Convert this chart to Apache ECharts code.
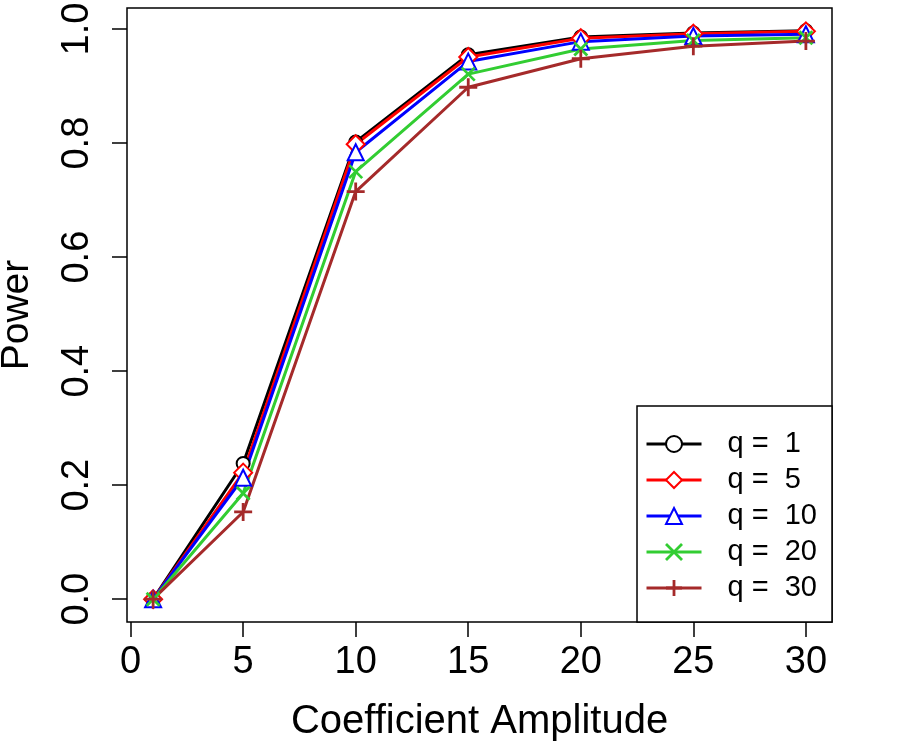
<!DOCTYPE html>
<html>
<head>
<meta charset="utf-8">
<script src="https://cdn.jsdelivr.net/npm/echarts@6/dist/echarts.min.js"></script>
<style>
    html, body { margin: 0; padding: 0; background: #fff; }
    #powerChart { width: 900px; height: 750px; }
</style>
</head>
<body>
<div id="powerChart"></div>
<script>
// coefficient amplitude (x) and power for each q
const amplitude = [1, 5, 10, 15, 20, 25, 30];
const power_q1  = [0, 0.238, 0.802, 0.955, 0.986, 0.993, 0.997];
const power_q5  = [0, 0.222, 0.798, 0.951, 0.984, 0.992, 0.996];
const power_q10 = [0, 0.213, 0.784, 0.943, 0.978, 0.988, 0.991];
const power_q20 = [0, 0.186, 0.750, 0.921, 0.965, 0.980, 0.985];
const power_q30 = [0, 0.153, 0.715, 0.898, 0.948, 0.970, 0.979];
const xTicks = [0, 5, 10, 15, 20, 25, 30];
const yTicks = [0, 0.2, 0.4, 0.6, 0.8, 1.0];
const seriesNames = ['q =  1', 'q =  5', 'q =  10', 'q =  20', 'q =  30'];

const FONT = 'Liberation Sans';

function makeSeries(name, values, color, symbol, size) {
    return {
        name: name,
        type: 'line',
        data: amplitude.map((x, i) => [x, values[i]]),
        symbol: symbol,
        symbolSize: size,
        lineStyle: { color: color, width: 3 },
        itemStyle: { color: color, borderColor: color, borderWidth: 2.8 },
        emphasis: { disabled: true },
        animation: false
    };
}

let myChart = echarts.init(document.getElementById('powerChart'));
let option = {
    backgroundColor: '#fff',
    textStyle: { fontFamily: FONT },
    grid: {
        left: 127, right: 68, top: 8, bottom: 128,
        outerBoundsMode: 'none',
        containLabel: false,
        show: true,
        borderColor: '#000',
        borderWidth: 1.5
    },
    legend: {
        orient: 'vertical',
        right: 68,
        bottom: 128,
        padding: [23, 15, 19, 8],
        backgroundColor: '#fff',
        borderColor: '#000',
        borderWidth: 1.5,
        borderRadius: 0,
        itemWidth: 55,
        itemHeight: 20,
        itemGap: 6,
        lineStyle: { width: 3 },
        itemStyle: { borderWidth: 2.8 },
        data: seriesNames,
        textStyle: {
            fontFamily: FONT,
            fontSize: 29,
            color: '#000',
            lineHeight: 30,
            padding: [0, 0, 0, 21]
        }
    },
    xAxis: {
        type: 'value',
        min: -0.16,
        max: 31.16,
        name: 'Coefficient Amplitude',
        nameLocation: 'middle',
        nameGap: 80,
        nameTextStyle: { fontFamily: FONT, fontSize: 40, color: '#000' },
        axisLine: { show: false, onZero: false },
        splitLine: { show: false },
        axisTick: {
            customValues: xTicks,
            length: 15,
            lineStyle: { color: '#000', width: 1.5 }
        },
        axisLabel: {
            customValues: xTicks,
            fontFamily: FONT,
            fontSize: 38,
            color: '#000',
            margin: 22
        }
    },
    yAxis: {
        type: 'value',
        min: -0.04,
        max: 1.037,
        name: 'Power',
        nameLocation: 'middle',
        nameGap: 90,
        nameTextStyle: { fontFamily: FONT, fontSize: 39, color: '#000' },
        axisLine: { show: false, onZero: false },
        splitLine: { show: false },
        axisTick: {
            customValues: yTicks,
            length: 15,
            lineStyle: { color: '#000', width: 1.5 }
        },
        axisLabel: {
            customValues: yTicks,
            rotate: 90,
            fontFamily: FONT,
            fontSize: 38,
            color: '#000',
            margin: 30,
            formatter: v => v.toFixed(1)
        }
    },
    series: [
        makeSeries(seriesNames[0], power_q1, '#000000', 'emptyCircle', 13),
        makeSeries(seriesNames[1], power_q5, '#FF0000', 'emptyDiamond', 18),
        makeSeries(seriesNames[2], power_q10, '#0000FF', 'emptyTriangle', 16),
        makeSeries(seriesNames[3], power_q20, '#32CD32', 'path://M0,0L10,10M10,0L0,10', 13),
        makeSeries(seriesNames[4], power_q30, '#A52A2A', 'path://M5,0L5,10M0,5L10,5', 18)
    ]
};
myChart.setOption(option);
</script>
</body>
</html>
